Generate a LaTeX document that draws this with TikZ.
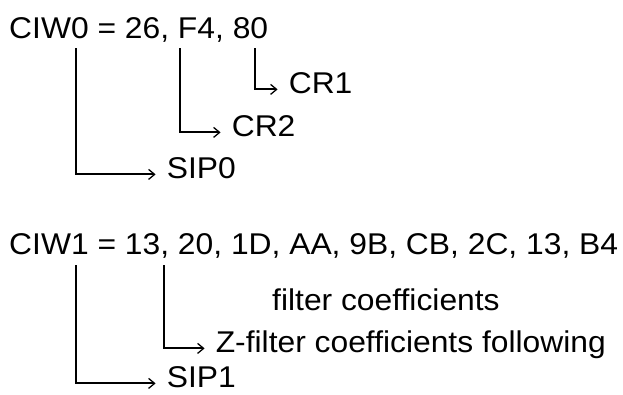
\documentclass[tikz,border=0pt]{standalone}
\usepackage{fontspec}
\setmainfont{Liberation Sans}[FakeStretch=1.06]
\usetikzlibrary{arrows.meta,positioning}
\definecolor{ink}{RGB}{0,0,0}
\tikzset{
  >={Straight Barb[length=6pt,width=10pt,line width=1.3pt]},
  hdr/.style={anchor=base west,inner sep=0pt,text=ink,font=\fontsize{30}{36}\selectfont},
  lbl/.style={anchor=base west,inner xsep=11pt,inner ysep=0pt,text height=0.72em,text depth=0pt,
    text=ink,font=\fontsize{30}{36}\selectfont},
  feed/.style={->,line width=2pt,draw=ink},
}
\begin{document}
\begin{tikzpicture}[x=1pt,y=-1pt]
  \useasboundingbox (0,0) rectangle (623,394);
  % first control word
  \node[hdr] (ciw0) at (9,38) {CIW0 = 26, F4, 80};
  \coordinate (t00) at (76,48);
  \coordinate (t01) at (180,48);
  \coordinate (t02) at (255,48);
  \node[lbl] (cr1) at (277.6,93) {CR1};
  \node[lbl] (cr2) at (220.6,136) {CR2};
  \node[lbl] (sip0) at (155.6,178) {SIP0};
  \draw[feed] (t02) |- (cr1.west);
  \draw[feed] (t01) |- (cr2.west);
  \draw[feed] (t00) |- (sip0.west);
  % second control word
  \node[hdr] (ciw1) at (9,254) {CIW1 = 13, 20, 1D, AA, 9B, CB, 2C, 13, B4};
  \coordinate (t10) at (76,265);
  \coordinate (t11) at (164,265);
  \node[hdr] (fc) at (272,310) {filter coefficients};
  \node[lbl] (zf) at (204.6,352) {Z-filter coefficients following};
  \node[lbl] (sip1) at (155.6,387) {SIP1};
  \draw[feed] (t11) |- (zf.west);
  \draw[feed] (t10) |- (sip1.west);
\end{tikzpicture}
\end{document}
